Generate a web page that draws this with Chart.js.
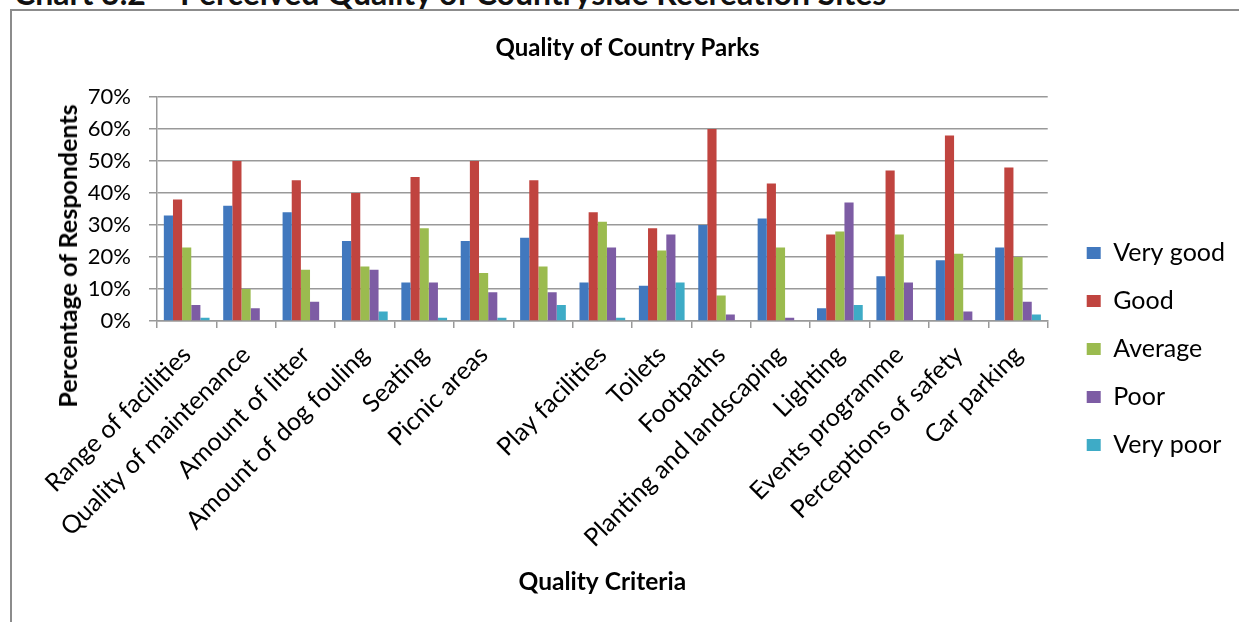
<!DOCTYPE html>
<html>
<head>
<meta charset="utf-8">
<title>Quality of Country Parks</title>
<script src="https://cdn.jsdelivr.net/npm/chart.js@4.4.1/dist/chart.umd.min.js"></script>
<style>
    html, body { margin: 0; padding: 0; background: #fff; overflow: hidden; }
    body { width: 1239px; height: 622px; position: relative; font-family: Lato, sans-serif; }
    #heading { position: absolute; left: 14px; top: -23px; font: bold 32px Lato, sans-serif; line-height: 32px; white-space: nowrap; color: #111; }
    #frame { position: absolute; left: 10px; top: 9px; width: 1300px; height: 700px; border: 2px solid #8c8c8c; }
    #ytitle { position: absolute; left: 67px; top: 256px; transform: translate(-50%, -50%) rotate(-90deg); font: bold 25px Lato, sans-serif; white-space: nowrap; color: #000; }
    #chart1 { position: absolute; left: 0; top: 0; }
</style>
</head>
<body>
<div id="heading">Chart 3.2 – Perceived Quality of Countryside Recreation Sites</div>
<div id="frame"></div>
<canvas id="chart1" width="1239" height="622"></canvas>
<div id="ytitle">Percentage of Respondents</div>
<script>
//类别
var categories = ['Range of facilities', 'Quality of maintenance', 'Amount of litter', 'Amount of dog fouling',
    'Seating', 'Picnic areas', '', 'Play facilities', 'Toilets', 'Footpaths', 'Planting and landscaping',
    'Lighting', 'Events programme', 'Perceptions of safety', 'Car parking'];
//各评价的百分比
var veryGood = [33, 36, 34, 25, 12, 25, 26, 12, 11, 30, 32, 4, 14, 19, 23];
var good     = [38, 50, 44, 40, 45, 50, 44, 34, 29, 60, 43, 27, 47, 58, 48];
var average  = [23, 10, 16, 17, 29, 15, 17, 31, 22, 8, 23, 28, 27, 21, 20];
var poor     = [5, 4, 6, 16, 12, 9, 9, 23, 27, 2, 1, 37, 12, 3, 6];
var veryPoor = [1, 0, 0, 3, 1, 1, 5, 1, 12, 0, 0, 5, 0, 0, 2];
var seriesNames = ['Very good', 'Good', 'Average', 'Poor', 'Very poor'];
var seriesColors = ['#4178be', '#c0443f', '#9bbb4f', '#7d5ca4', '#3eabc6'];
var yTicks = [0, 10, 20, 30, 40, 50, 60, 70];

var gridGray = '#999999';

//图例往右下挪, 标题居中到绘图区上方
var boxShift = {
    id: 'boxShift',
    afterLayout: function (chart) {
        chart.legend.left += 16;
        chart.legend.right += 16;
        chart.legend.top += 38;
        chart.legend.bottom += 38;
        chart.titleBlock.left += 18;
        chart.titleBlock.right += 18;
    }
};

function ChartJs() {
    var ctx = document.getElementById('chart1').getContext('2d');
    var values = [veryGood, good, average, poor, veryPoor];
    var datasets = values.map(function (v, i) {
        return {
            label: seriesNames[i],
            data: v,
            backgroundColor: seriesColors[i],
            borderWidth: 0,
            categoryPercentage: 0.77,
            barPercentage: 1
        };
    });
    var myChart = new Chart(ctx, {
        type: 'bar',
        data: {
            labels: categories,
            datasets: datasets
        },
        plugins: [boxShift],
        options: {
            responsive: false,
            animation: false,
            layout: { padding: { left: 0, right: 20, top: 0, bottom: 0 } },
            plugins: {
                title: {
                    display: true,
                    text: 'Quality of Country Parks',
                    color: '#000',
                    font: { family: 'Lato', size: 24, weight: 'bold' },
                    padding: { top: 33.6, bottom: 34.6 }
                },
                legend: {
                    position: 'right',
                    labels: {
                        color: '#000',
                        font: { family: 'Lato', size: 25 },
                        boxWidth: 14,
                        boxHeight: 12,
                        padding: 23
                    }
                },
                tooltip: { enabled: false }
            },
            scales: {
                x: {
                    grid: {
                        display: true,
                        drawOnChartArea: false,
                        drawTicks: true,
                        tickLength: 7,
                        offset: true,
                        color: gridGray,
                        lineWidth: 1.5
                    },
                    border: { color: gridGray, width: 1.5 },
                    ticks: {
                        autoSkip: false,
                        minRotation: 45,
                        maxRotation: 45,
                        padding: 12,
                        color: '#000',
                        font: { family: 'Lato', size: 25 }
                    },
                    title: {
                        display: true,
                        text: 'Quality Criteria',
                        color: '#000',
                        font: { family: 'Lato', size: 24.5, weight: 'bold' },
                        padding: { top: 0, bottom: 25.3 }
                    },
                    afterFit: function (scale) { scale.height = 301; }
                },
                y: {
                    min: 0,
                    max: 70,
                    afterBuildTicks: function (scale) {
                        scale.ticks = yTicks.map(function (v) { return { value: v }; });
                    },
                    grid: {
                        color: gridGray,
                        lineWidth: 1.5,
                        drawTicks: true,
                        tickLength: 8
                    },
                    border: { color: gridGray, width: 1.5 },
                    ticks: {
                        padding: 18,
                        color: '#000',
                        font: { family: 'Lato', size: 22 },
                        callback: function (v) { return v + '%'; }
                    },
                    afterFit: function (scale) { scale.width = 157; }
                }
            }
        }
    });
}
ChartJs();
</script>
</body>
</html>
